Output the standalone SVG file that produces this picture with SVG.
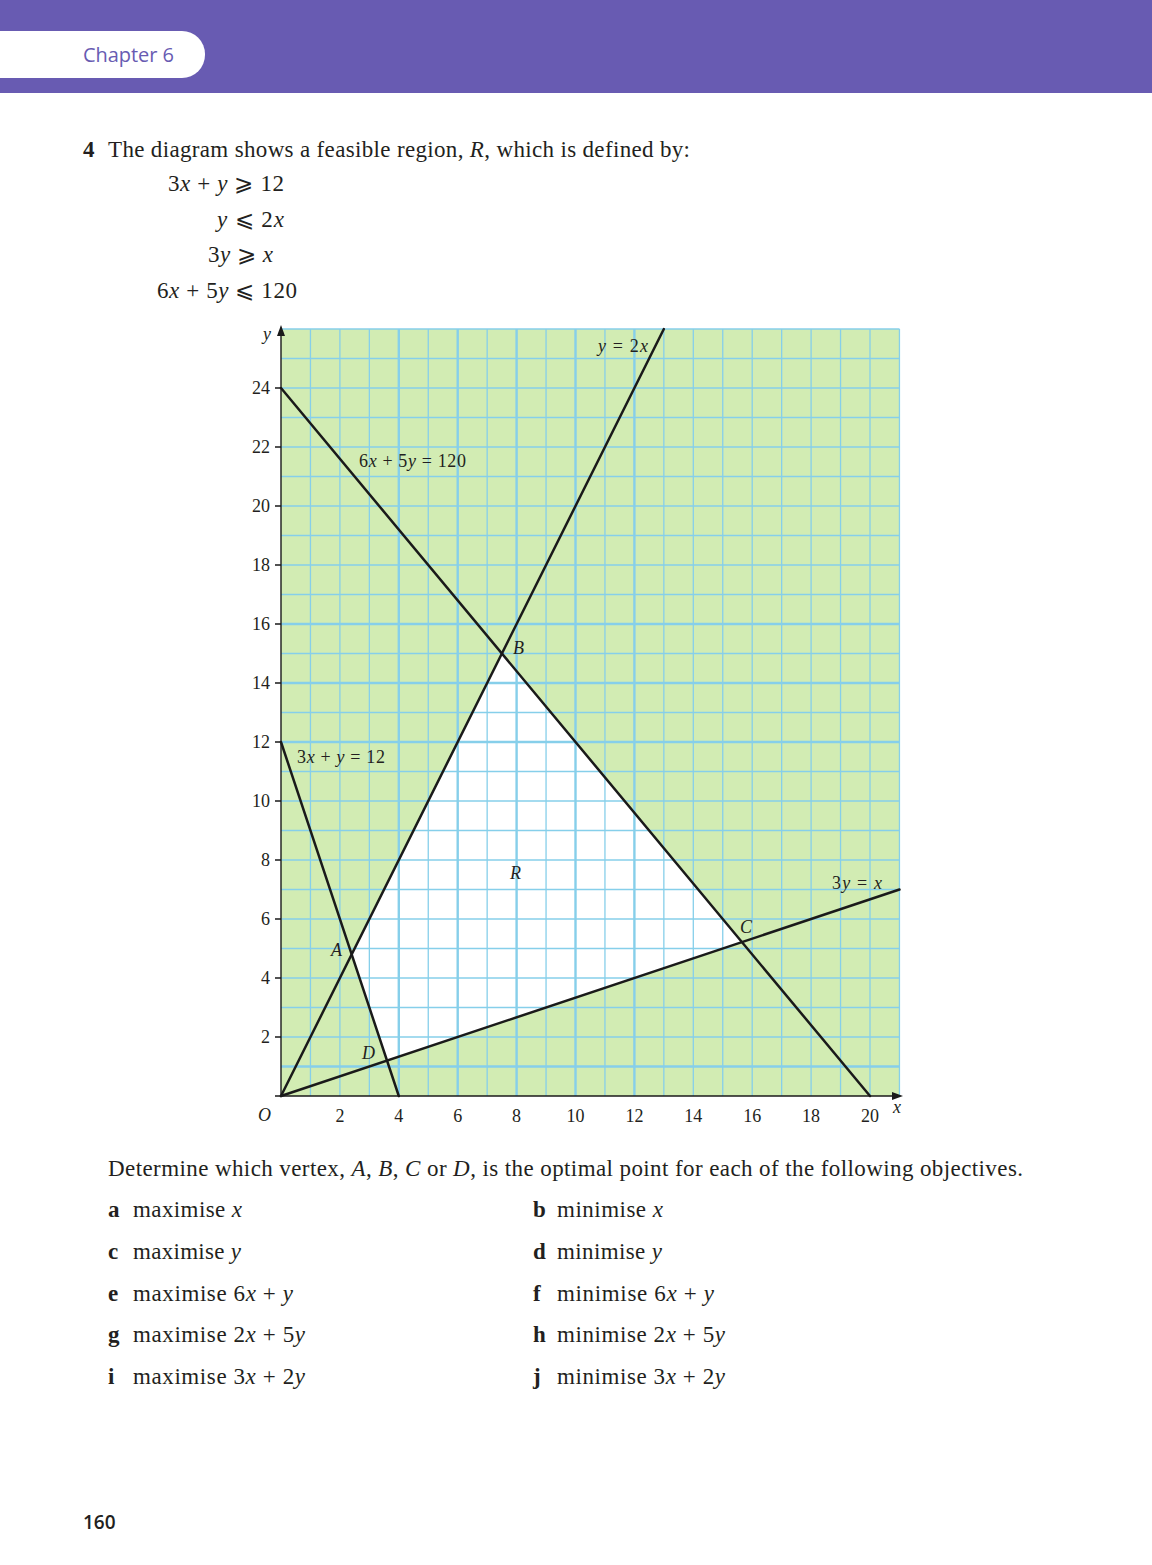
<svg xmlns="http://www.w3.org/2000/svg" width="1152" height="1565" viewBox="0 0 1152 1565">
<style>
.serif{font-family:"Liberation Serif","DejaVu Serif",serif;fill:#231f20}
.t22{font-size:23px}
.t18{font-size:18px}
.i{font-style:italic}
.b{font-weight:bold}
.gt{stroke:#86cfea;stroke-width:1.3}
.gk{stroke:#86cfea;stroke-width:2.4}
.ln{stroke:#1a1a1a;stroke-width:2.5;fill:none;stroke-linecap:round}
.ax{stroke:#1a1a1a;stroke-width:1.4;fill:none}
</style>
<rect width="1152" height="1565" fill="#ffffff"/>
<g id="header">
<rect x="0" y="0" width="1152" height="93" fill="#685bb2"/>
<path d="M0 31 H182 A23 23 0 0 1 205 54 V55 A23 23 0 0 1 182 78 H0 Z" fill="#ffffff"/>
<text x="83" y="62" font-family="Open Sans, Noto Sans, sans-serif" font-size="20" fill="#685bb2" textLength="91">Chapter 6</text>
</g>
<g id="question">
<text class="serif t22 b" x="83" y="157">4</text>
<text class="serif t22" x="108" y="157" textLength="582">The diagram shows a feasible region, <tspan class="i">R</tspan>, which is defined by:</text>
<text class="serif t22" x="168" y="191" textLength="116">3<tspan class="i">x</tspan> + <tspan class="i">y</tspan> ⩾ 12</text>
<text class="serif t22" x="217" y="227" textLength="67"><tspan class="i">y</tspan> ⩽ 2<tspan class="i">x</tspan></text>
<text class="serif t22" x="208" y="262" textLength="65">3<tspan class="i">y</tspan> ⩾ <tspan class="i">x</tspan></text>
<text class="serif t22" x="157" y="298" textLength="140">6<tspan class="i">x</tspan> + 5<tspan class="i">y</tspan> ⩽ 120</text>
</g>
<g id="plot">
<rect x="281" y="329" width="618.5" height="767" fill="#d2ecb3"/>
<polygon id="region-R" points="351.68,954.4 501.88,653.5 741.96,942.09 387.02,1060.6" fill="#ffffff"/>
<g id="grid">
<line class="gt" x1="310.45" y1="329" x2="310.45" y2="1096"/>
<line class="gt" x1="339.9" y1="329" x2="339.9" y2="1096"/>
<line class="gt" x1="369.35" y1="329" x2="369.35" y2="1096"/>
<line class="gk" x1="398.8" y1="329" x2="398.8" y2="1096"/>
<line class="gt" x1="428.25" y1="329" x2="428.25" y2="1096"/>
<line class="gk" x1="457.7" y1="329" x2="457.7" y2="1096"/>
<line class="gt" x1="487.15" y1="329" x2="487.15" y2="1096"/>
<line class="gk" x1="516.6" y1="329" x2="516.6" y2="1096"/>
<line class="gt" x1="546.05" y1="329" x2="546.05" y2="1096"/>
<line class="gk" x1="575.5" y1="329" x2="575.5" y2="1096"/>
<line class="gt" x1="604.95" y1="329" x2="604.95" y2="1096"/>
<line class="gk" x1="634.4" y1="329" x2="634.4" y2="1096"/>
<line class="gt" x1="663.85" y1="329" x2="663.85" y2="1096"/>
<line class="gt" x1="693.3" y1="329" x2="693.3" y2="1096"/>
<line class="gt" x1="722.75" y1="329" x2="722.75" y2="1096"/>
<line class="gt" x1="752.2" y1="329" x2="752.2" y2="1096"/>
<line class="gt" x1="781.65" y1="329" x2="781.65" y2="1096"/>
<line class="gt" x1="811.1" y1="329" x2="811.1" y2="1096"/>
<line class="gt" x1="840.55" y1="329" x2="840.55" y2="1096"/>
<line class="gt" x1="870" y1="329" x2="870" y2="1096"/>
<line class="gt" x1="899.45" y1="329" x2="899.45" y2="1096"/>
<line class="gk" x1="281" y1="1066.5" x2="899.5" y2="1066.5"/>
<line class="gt" x1="281" y1="1037" x2="899.5" y2="1037"/>
<line class="gt" x1="281" y1="1007.5" x2="899.5" y2="1007.5"/>
<line class="gt" x1="281" y1="978" x2="899.5" y2="978"/>
<line class="gt" x1="281" y1="948.5" x2="899.5" y2="948.5"/>
<line class="gt" x1="281" y1="919" x2="899.5" y2="919"/>
<line class="gt" x1="281" y1="889.5" x2="899.5" y2="889.5"/>
<line class="gt" x1="281" y1="860" x2="899.5" y2="860"/>
<line class="gt" x1="281" y1="830.5" x2="899.5" y2="830.5"/>
<line class="gt" x1="281" y1="801" x2="899.5" y2="801"/>
<line class="gt" x1="281" y1="771.5" x2="899.5" y2="771.5"/>
<line class="gk" x1="281" y1="742" x2="899.5" y2="742"/>
<line class="gt" x1="281" y1="712.5" x2="899.5" y2="712.5"/>
<line class="gk" x1="281" y1="683" x2="899.5" y2="683"/>
<line class="gt" x1="281" y1="653.5" x2="899.5" y2="653.5"/>
<line class="gk" x1="281" y1="624" x2="899.5" y2="624"/>
<line class="gt" x1="281" y1="594.5" x2="899.5" y2="594.5"/>
<line class="gt" x1="281" y1="565" x2="899.5" y2="565"/>
<line class="gt" x1="281" y1="535.5" x2="899.5" y2="535.5"/>
<line class="gt" x1="281" y1="506" x2="899.5" y2="506"/>
<line class="gt" x1="281" y1="476.5" x2="899.5" y2="476.5"/>
<line class="gt" x1="281" y1="447" x2="899.5" y2="447"/>
<line class="gt" x1="281" y1="417.5" x2="899.5" y2="417.5"/>
<line class="gt" x1="281" y1="388" x2="899.5" y2="388"/>
<line class="gt" x1="281" y1="358.5" x2="899.5" y2="358.5"/>
<line class="gt" x1="281" y1="329" x2="899.5" y2="329"/>
</g>
<g id="connectors">
<line id="line-6x5y" class="ln" x1="281" y1="388" x2="870" y2="1096"/>
<line id="line-y2x" class="ln" x1="281" y1="1096" x2="663.85" y2="329"/>
<line id="line-3xy" class="ln" x1="281" y1="742" x2="398.8" y2="1096"/>
<line id="line-3yx" class="ln" x1="281" y1="1096" x2="899.45" y2="889.5"/>
</g>
<g id="axes">
<line class="ax" x1="281" y1="1096" x2="281" y2="334"/>
<line class="ax" x1="281" y1="1096" x2="894" y2="1096"/>
<polygon points="281,325 277,336 285,336" fill="#1a1a1a"/>
<polygon points="903,1096 892,1092 892,1100" fill="#1a1a1a"/>
<path class="ax" d="M275 1096H281M275 1037H281M275 978H281M275 919H281M275 860H281M275 801H281M275 742H281M275 683H281M275 624H281M275 565H281M275 506H281M275 447H281M275 388H281"/>
</g>
<g id="axis-labels" class="serif t18">
<text x="270" y="1043" text-anchor="end">2</text>
<text x="270" y="984" text-anchor="end">4</text>
<text x="270" y="925" text-anchor="end">6</text>
<text x="270" y="866" text-anchor="end">8</text>
<text x="270" y="807" text-anchor="end">10</text>
<text x="270" y="748" text-anchor="end">12</text>
<text x="270" y="689" text-anchor="end">14</text>
<text x="270" y="630" text-anchor="end">16</text>
<text x="270" y="571" text-anchor="end">18</text>
<text x="270" y="512" text-anchor="end">20</text>
<text x="270" y="453" text-anchor="end">22</text>
<text x="270" y="394" text-anchor="end">24</text>
<text x="339.9" y="1122" text-anchor="middle">2</text>
<text x="398.8" y="1122" text-anchor="middle">4</text>
<text x="457.7" y="1122" text-anchor="middle">6</text>
<text x="516.6" y="1122" text-anchor="middle">8</text>
<text x="575.5" y="1122" text-anchor="middle">10</text>
<text x="634.4" y="1122" text-anchor="middle">12</text>
<text x="693.3" y="1122" text-anchor="middle">14</text>
<text x="752.2" y="1122" text-anchor="middle">16</text>
<text x="811.1" y="1122" text-anchor="middle">18</text>
<text x="870" y="1122" text-anchor="middle">20</text>
<text class="i" x="258" y="1121">O</text>
<text class="i" x="893" y="1113">x</text>
<text class="i" x="263" y="340">y</text>
</g>
<g id="line-labels" class="serif t18">
<text x="598" y="352" textLength="50"><tspan class="i">y</tspan> = 2<tspan class="i">x</tspan></text>
<text x="359" y="467" textLength="107">6<tspan class="i">x</tspan> + 5<tspan class="i">y</tspan> = 120</text>
<text x="297" y="763" textLength="88">3<tspan class="i">x</tspan> + <tspan class="i">y</tspan> = 12</text>
<text x="832" y="889" textLength="50">3<tspan class="i">y</tspan> = <tspan class="i">x</tspan></text>
</g>
<g id="point-labels" class="serif t18 i">
<text x="513" y="654">B</text>
<text x="331" y="956">A</text>
<text x="740" y="933">C</text>
<text x="362" y="1059">D</text>
<text x="510" y="879">R</text>
</g>
</g>
<g id="objectives" class="serif t22">
<text x="108" y="1176" textLength="915">Determine which vertex, <tspan class="i">A</tspan>, <tspan class="i">B</tspan>, <tspan class="i">C</tspan> or <tspan class="i">D</tspan>, is the optimal point for each of the following objectives.</text>
<text class="b" x="108" y="1217">a</text>
<text x="133" y="1217" textLength="109">maximise <tspan class="i">x</tspan></text>
<text class="b" x="533" y="1217">b</text>
<text x="557" y="1217" textLength="106">minimise <tspan class="i">x</tspan></text>
<text class="b" x="108" y="1259">c</text>
<text x="133" y="1259" textLength="108">maximise <tspan class="i">y</tspan></text>
<text class="b" x="533" y="1259">d</text>
<text x="557" y="1259" textLength="105">minimise <tspan class="i">y</tspan></text>
<text class="b" x="108" y="1301">e</text>
<text x="133" y="1301" textLength="160">maximise 6<tspan class="i">x</tspan> + <tspan class="i">y</tspan></text>
<text class="b" x="533" y="1301">f</text>
<text x="557" y="1301" textLength="157">minimise 6<tspan class="i">x</tspan> + <tspan class="i">y</tspan></text>
<text class="b" x="108" y="1342">g</text>
<text x="133" y="1342" textLength="172">maximise 2<tspan class="i">x</tspan> + 5<tspan class="i">y</tspan></text>
<text class="b" x="533" y="1342">h</text>
<text x="557" y="1342" textLength="168">minimise 2<tspan class="i">x</tspan> + 5<tspan class="i">y</tspan></text>
<text class="b" x="108" y="1384">i</text>
<text x="133" y="1384" textLength="172">maximise 3<tspan class="i">x</tspan> + 2<tspan class="i">y</tspan></text>
<text class="b" x="533" y="1384">j</text>
<text x="557" y="1384" textLength="168">minimise 3<tspan class="i">x</tspan> + 2<tspan class="i">y</tspan></text>
</g>
<text id="page-number" x="83" y="1529" font-family="Open Sans, Noto Sans, sans-serif" font-size="19" font-weight="600" fill="#231f20">160</text>
</svg>
